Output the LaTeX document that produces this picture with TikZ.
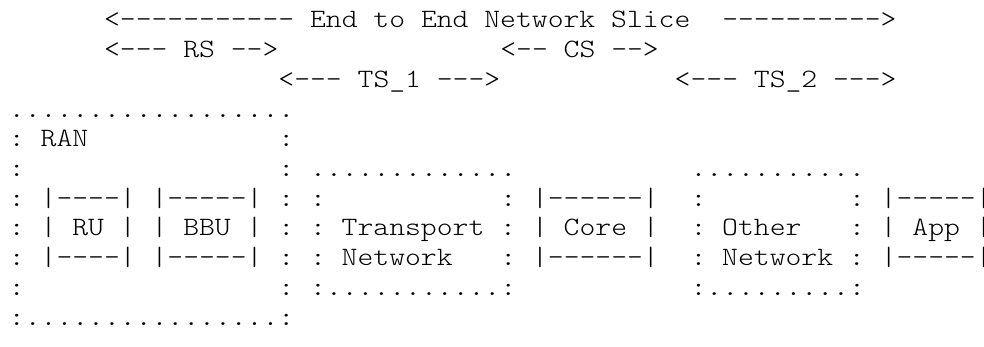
\documentclass[tikz,border=0pt]{standalone}
\usepackage{fontspec}
% light typewriter face, widened a little to a 15.85-unit character cell
\newfontfamily\asciifont{lmmonolt10-regular.otf}[FakeStretch=1.139]
\frenchspacing
% Character grid: one column is 15.85 units wide, one row 29.7 units high
\newcommand\gridtxt[4]{\node[ascii] (#1) at ({9+15.85*#2},{28+29.7*(#3-1)}) {#4};}
\begin{document}
\begin{tikzpicture}[x=0.5pt,y=-0.5pt,
  ascii/.style={anchor=base west, inner sep=0pt, outer sep=0pt,
    font=\asciifont\fontsize{13.25}{14}\selectfont, text=black}]
\fill[white] (0,0) rectangle (984,347);
\useasboundingbox (0,0) rectangle (984,347);

% slice arrows
\gridtxt{sliceL}{6}{1}{<----------- End to End Network Slice}
\gridtxt{sliceR}{45}{1}{---------->}
\gridtxt{rs}{6}{2}{<--- RS -->}
\gridtxt{cs}{31}{2}{<-- CS -->}
\gridtxt{tsOne}{17}{3}{<--- TS\_1 --->}
\gridtxt{tsTwo}{42}{3}{<--- TS\_2 --->}

% RAN box with RU and BBU
\gridtxt{ranTop}{0}{4}{..................}
\gridtxt{ranLabel}{0}{5}{: RAN}
\gridtxt{ranR5}{17}{5}{:}
\gridtxt{ranL6}{0}{6}{:}
\gridtxt{ranR6}{17}{6}{:}
\gridtxt{ranTopBoxes}{0}{7}{: |----| |-----| : :}
\gridtxt{ranMid}{0}{8}{: | RU | | BBU | : : Transport :}
\gridtxt{ranLowBoxes}{0}{9}{: |----| |-----| : : Network}
\gridtxt{ranL10}{0}{10}{:}
\gridtxt{ranR10}{17}{10}{:}
\gridtxt{ranBottom}{0}{11}{:................:}

% transport network box
\gridtxt{tnTop}{19}{6}{.............}
\gridtxt{tnR9}{31}{9}{:}
\gridtxt{tnBottom}{19}{10}{:...........:}

% core box
\gridtxt{coreTop}{31}{7}{: |------|}
\gridtxt{coreMid}{33}{8}{| Core |}
\gridtxt{coreLow}{33}{9}{|------|}

% other network box
\gridtxt{onTop}{43}{6}{...........}
\gridtxt{onL7}{43}{7}{:}
\gridtxt{onMid}{43}{8}{: Other}
\gridtxt{onLow}{43}{9}{: Network :}
\gridtxt{onBottom}{43}{10}{:.........:}

% app box
\gridtxt{appTop}{53}{7}{: |-----|}
\gridtxt{appMid}{53}{8}{: | App |}
\gridtxt{appLow}{55}{9}{|-----|}
\end{tikzpicture}
\end{document}
